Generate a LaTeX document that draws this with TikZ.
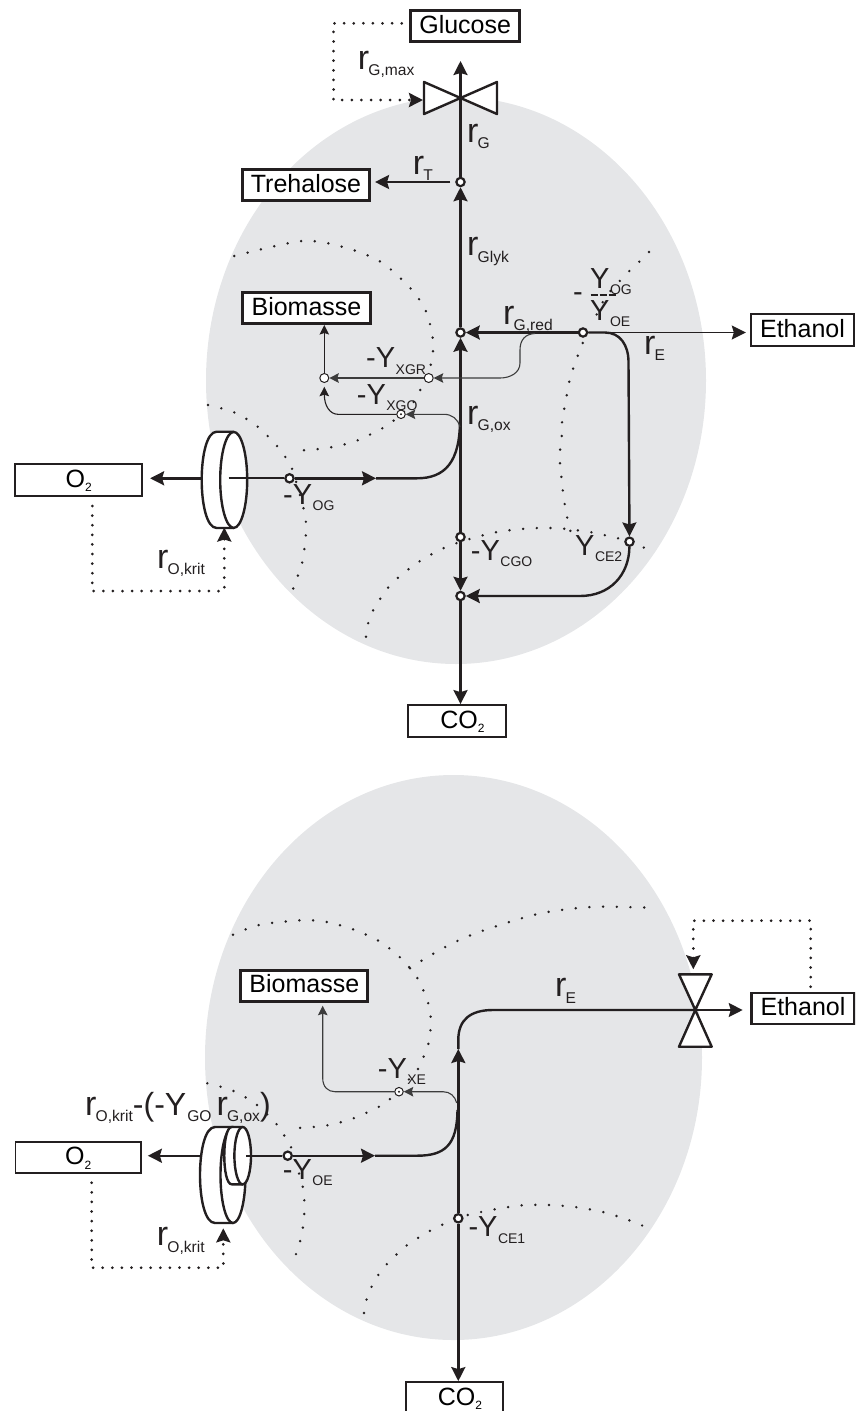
\documentclass[tikz,border=0pt]{standalone}
\usepackage{fontspec}
\setmainfont{Liberation Sans}
\usetikzlibrary{arrows.meta}
\definecolor{ink}{HTML}{231F20}
\definecolor{cellgrey}{HTML}{E5E6E8}
\definecolor{thingrey}{HTML}{3C3C3C}
\newcommand{\rfl}[1]{{\fontsize{34}{34}\selectfont r}\kern-0.8pt\raisebox{-6.5pt}{\fontsize{15.6}{16}\selectfont #1}}
\newcommand{\yfl}[1]{{\fontsize{29}{29}\selectfont Y}\kern0.5pt\raisebox{-6.5pt}{\fontsize{14}{14}\selectfont #1}}
\newcommand{\myfl}[1]{{\fontsize{29}{29}\selectfont -}\yfl{#1}}
\newcommand{\boxtxt}[1]{\fontsize{25}{25}\selectfont #1}
\newcommand{\two}{\raisebox{-4.7pt}{\fontsize{12}{12}\selectfont 2}}
\tikzset{
  bigtip/.tip={Stealth[length=14pt,width=14pt,inset=2pt]},
  smalltip/.tip={Stealth[length=9.5pt,width=9.5pt,inset=1.5pt]},
  lab/.style={anchor=base west,inner sep=0pt,text=ink},
  stockbox/.style={draw=ink,fill=white,inner sep=0pt,text=black,text height=18pt,text depth=4pt,align=center},
  thickjunction/.style={circle,draw=ink,fill=white,line width=2.2pt,minimum size=8.3pt,inner sep=0pt},
  thinjunction/.style={circle,draw=ink,fill=white,line width=1pt,minimum size=9pt,inner sep=0pt},
  thick flow/.style={draw=ink,line width=2.4pt},
  mid flow/.style={draw=ink,line width=1.7pt},
  thin flow/.style={draw=thingrey,line width=1.1pt},
  celldots/.style={draw=ink,line width=2.7pt,line cap=round,dash pattern=on 0pt off 13.7pt},
  ctrldots/.style={draw=ink,line width=3pt,line cap=round,dash pattern=on 0pt off 9.6pt},
  devicepart/.style={draw=ink,fill=white,line width=2.4pt,line join=round},
}
\begin{document}
\begin{tikzpicture}[x=1pt,y=-1pt]
\useasboundingbox (0,0) rectangle (855,1411);
\clip (0,0) rectangle (855,1411);
% ---------- cells
\fill[cellgrey] (456,380.5) ellipse [x radius=250pt,y radius=283.5pt];
\fill[cellgrey] (453.5,1057.5) ellipse [x radius=248.5pt,y radius=282.5pt];
% ---------- dotted boundaries, upper cell
\draw[celldots] plot[smooth] coordinates {(234.3,256) (301.7,241) (343,247) (381,262) (412,290) (426.7,313) (433,340) (432.7,354) (430,367) (419,392.7) (411,405) (391,422.7) (379,430) (354,441.7) (327,448) (299,450.7)};
\draw[celldots] plot[smooth] coordinates {(208,405) (235,412.7) (258,427) (278,447) (286,458) (292.7,470.7) (304,510) (306,523.7) (305.7,537.7) (304,551.7) (301.7,565) (297,578) (292.7,590)};
\draw[celldots] plot[smooth] coordinates {(366,636.7) (368,623.7) (373,610.7) (380,599) (388,587.7) (398,577.7) (408.7,569) (420,561) (432,554) (444,548) (457,543) (470.7,538.7) (484,535) (497,532) (511,530) (525,528.7) (538,528) (552,528) (566.7,529) (580,530.7) (594,532.7) (607,535.7) (621,539) (634,543) (646.7,549)};
\draw[celldots] plot[smooth] coordinates {(582.7,343) (577.7,356) (573,369) (569,382.7) (566.7,395.7) (564,410) (562,423) (561.7,437) (560,451) (560,465) (561.7,479) (563,492) (565,506) (567.7,520) (571,533)};
\draw[celldots] plot[smooth] coordinates {(649,252) (638,263) (627,273.3) (616,285) (605,298) (595,318)};
% ---------- dotted boundaries, lower cell
\draw[celldots] plot[smooth] coordinates {(233,934.7) (259,925) (300,920.3) (327,922) (354,929.7) (379,941) (400.7,958) (418,979) (428.7,1004.7) (430.7,1018) (430.3,1032) (428,1045.7) (423,1058) (416.7,1070.7) (389,1100) (377,1107.7) (351.7,1119) (325,1125.7) (297.7,1128)};
\draw[celldots] plot[smooth] coordinates {(207.3,1083.3) (233,1090.7) (257,1105) (276.7,1124.3) (284.3,1135.7) (291,1147.3) (302.7,1186.7) (304.3,1200.7) (304.3,1214.3) (302.7,1228.3) (300,1241.7) (295.7,1255) (291,1266.7)};
\draw[celldots] plot[smooth] coordinates {(410,968.3) (427,957.3) (451,944) (476.3,933) (515.7,920) (542,913) (569.3,909) (596.7,906.7) (624.3,907) (652.3,907.7)};
\draw[celldots] plot[smooth] coordinates {(364,1313) (366.3,1300.3) (371.3,1287.3) (378,1275.3) (386.3,1264.7) (406.3,1245.7) (429.7,1231) (442.3,1224.7) (455,1219.5) (467.7,1215) (494.7,1209.3) (522,1205.3) (549.3,1205) (577,1207.3) (604,1212.3) (630.3,1220.7) (643.3,1226)};
% ---------- stocks, upper
\node[stockbox,line width=2.6pt,minimum width=109pt,minimum height=31.5pt] (glucose) at (465.2,26) {\boxtxt{Glucose}};
\node[stockbox,line width=2.6pt,minimum width=127.5pt,minimum height=31.5pt] (treh) at (306,185) {\boxtxt{Trehalose}};
\node[stockbox,line width=3pt,minimum width=127.5pt,minimum height=31pt] (biomU) at (306.5,308) {\boxtxt{Biomasse}};
\node[stockbox,line width=2.4pt,minimum width=103pt,minimum height=31.5pt] (ethU) at (802.5,330) {\boxtxt{Ethanol}};
\node[stockbox,line width=1.8pt,minimum width=127pt,minimum height=32pt] (oxU) at (78.7,480) {\boxtxt{O\two}};
\node[stockbox,line width=1.8pt,minimum width=98pt,minimum height=32pt] (co2U) at (457,721) {\hspace*{11pt}\boxtxt{CO\two}};
% ---------- stocks, lower
\node[stockbox,line width=3pt,minimum width=127pt,minimum height=31pt] (biomL) at (304.3,985.7) {\boxtxt{Biomasse}};
\node[stockbox,line width=2.4pt,minimum width=103pt,minimum height=31pt] (ethL) at (803,1008.3) {\boxtxt{Ethanol}};
\node[stockbox,line width=1.8pt,minimum width=125.5pt,minimum height=31.5pt] (oxL) at (78.2,1157.5) {\boxtxt{O\two}};
\node[stockbox,line width=1.8pt,minimum width=97pt,minimum height=32pt] (co2L) at (454.5,1398) {\hspace*{11pt}\boxtxt{CO\two}};
% ---------- junctions, upper
\node[thickjunction] (nT) at (460.5,182) {};
\node[thickjunction] (nC) at (460.5,332.5) {};
\node[thickjunction] (nE) at (583,332.5) {};
\node[thickjunction] (nE2) at (629.5,541.7) {};
\node[thickjunction] (nCGO) at (460.5,537) {};
\node[thickjunction] (nCO) at (460.5,596) {};
\node[thickjunction] (nOG) at (289.5,478.3) {};
\node[thinjunction] (nB) at (324.3,378) {};
\node[thinjunction] (nXGR) at (428.7,378) {};
\node[thinjunction,minimum size=8.5pt] (nXGO) at (401,414.3) {};
\fill[ink] (nXGO) circle (1.1pt);
% ---------- junctions, lower
\node[thickjunction] (mOE) at (287.7,1155.7) {};
\node[thickjunction] (mCE) at (458.3,1218.3) {};
\node[thinjunction,minimum size=8.5pt] (mXE) at (399,1091.7) {};
\fill[ink] (mXE) circle (1.1pt);
% ---------- valves and devices, upper
\coordinate (vG) at (460.5,98);
\coordinate (vGtop) at (460.5,61);
\draw[devicepart] (vG) -- (424,82) -- (424,114) -- cycle;
\draw[devicepart] (vG) -- (497,82) -- (497,114) -- cycle;
\draw[devicepart] (216.7,431.7) .. controls (196.7,431.7) and (196.7,528) .. (216.7,528) -- (233.7,528) -- (233.7,431.7) -- cycle;
\draw[devicepart] (233.7,479.9) ellipse [x radius=13.5pt,y radius=48pt];
% ---------- valves and devices, lower
\coordinate (vE) at (695.3,1010);
\draw[devicepart] (vE) -- (679,974.3) -- (711.7,974.3) -- cycle;
\draw[devicepart] (vE) -- (679,1046.7) -- (711.7,1046.7) -- cycle;
\draw[devicepart] (215,1127) .. controls (195,1127) and (195,1223) .. (215,1223) -- (233,1223) -- (233,1127) -- cycle;
\draw[devicepart] (233,1175) ellipse [x radius=12.5pt,y radius=48pt];
\draw[devicepart] (231.7,1127) .. controls (221.8,1127) and (221.8,1184.3) .. (231.7,1184.3) -- (242.7,1184.3) -- (242.7,1127) -- cycle;
\draw[devicepart] (242.7,1155.7) ellipse [x radius=8.3pt,y radius=28.7pt];
% ---------- control loops
\coordinate (ctlGa) at (401.7,23.3);
\coordinate (ctlGb) at (333.5,23.3);
\coordinate (ctlGc) at (333.5,100);
\coordinate (ctlGd) at (423,100);
\draw[ctrldots,-{bigtip}] (ctlGa) -- (ctlGb) -- (ctlGc) -- (ctlGd);
\coordinate (ctlOa) at (92.3,506);
\coordinate (ctlOb) at (92.3,591);
\coordinate (ctlOc) at (224.3,591);
\coordinate (ctlOd) at (224.3,527.5);
\draw[ctrldots,-{bigtip}] (ctlOa) -- (ctlOb) -- (ctlOc) -- (ctlOd);
\coordinate (ctlPa) at (91.7,1182.7);
\coordinate (ctlPb) at (91.7,1267.7);
\coordinate (ctlPc) at (223.3,1267.7);
\coordinate (ctlPd) at (223.3,1228.3);
\draw[ctrldots,-{bigtip}] (ctlPa) -- (ctlPb) -- (ctlPc) -- (ctlPd);
\coordinate (ctlEa) at (810.7,986.7);
\coordinate (ctlEb) at (810.7,920.7);
\coordinate (ctlEc) at (693.3,920.7);
\coordinate (ctlEd) at (693.3,969.3);
\draw[ctrldots,-{bigtip}] (ctlEa) -- (ctlEb) -- (ctlEc) -- (ctlEd);
% ---------- flows, upper
\draw[thick flow] (nT) -- (vG);
\draw[thick flow,-{bigtip}] (vG) -- (vGtop);
\draw[thick flow,-{bigtip},shorten <=5pt,shorten >=4pt] (nT) -- (treh.east |- nT);
\draw[thick flow,-{bigtip}] (nC) -- (nT);
\draw[thick flow,-{bigtip}] (nCGO) -- (nC);
\draw[thick flow,-{bigtip}] (nCGO) -- (nCO);
\draw[thick flow,-{bigtip}] (nCO) -- (nCO |- co2U.north);
\draw[thick flow,-{bigtip}] (nE) -- (nC);
\draw[mid flow,-{bigtip},shorten >=4pt] (nE) -- (ethU.west |- nE);
\draw[thick flow,-{bigtip}] (nE) -- (605,332.5) .. controls (620,332.5) and (628.5,345) .. (628.5,362) -- (nE2);
\draw[thick flow,-{bigtip}] (nE2) .. controls (629,575) and (610,596) .. (580,596) -- (nCO);
\coordinate (ogMid) at (376,478.3);
\coordinate (c1out) at (228.7,478.3);
\coordinate (c1in) at (201.7,478.3);
\draw[mid flow] (c1out) -- (nOG);
\draw[thick flow,-{bigtip}] (nOG) -- (ogMid);
\draw[thick flow] (ogMid) -- (417,478.3) .. controls (445,478.3) and (460,462) .. (460,420);
\draw[thick flow,-{bigtip},shorten >=7pt] (c1in) -- (oxU.east |- c1in);
\draw[thin flow,-{smalltip}] (535,333.5) .. controls (525,334) and (520,340) .. (520,350) -- (520,363) .. controls (520,373) and (510,378) .. (500,378) -- (nXGR);
\draw[thin flow,-{smalltip}] (nXGR) -- (nB);
\draw[thin flow,draw=ink,-{smalltip}] (nB) -- (nB |- biomU.south);
\draw[thin flow,-{smalltip}] (460,427) .. controls (458,419) and (452,414.3) .. (444,414.3) -- (nXGO);
\draw[thin flow,draw=ink,-{smalltip}] (nXGO) -- (338,414.3) .. controls (330,414.3) and (324.3,406) .. (324.3,386.7);
% dashed quotient bar
\coordinate (barL) at (590.5,294.5);
\coordinate (barR) at (617,294.5);
\draw[ink,line width=2pt,dash pattern=on 7pt off 2pt] (barL) -- (barR);
% ---------- flows, lower
\coordinate (bendE) at (493,1010);
\coordinate (tipEup) at (458.3,1049);
\coordinate (tipEr) at (742.7,1010);
\coordinate (oeMid) at (375,1155.7);
\coordinate (c2out) at (246,1155.7);
\coordinate (c2in) at (200,1155.7);
\draw[thick flow,-{bigtip}] (mCE) -- (tipEup);
\draw[thick flow] (tipEup) -- (458.3,1040) .. controls (458.3,1020) and (470,1010) .. (bendE) -- (vE);
\draw[mid flow,-{bigtip}] (vE) -- (tipEr);
\draw[thick flow,-{bigtip}] (mCE) -- (mCE |- co2L.north);
\draw[mid flow] (c2out) -- (mOE);
\draw[thick flow,-{bigtip}] (mOE) -- (oeMid);
\draw[thick flow] (oeMid) -- (417,1155.7) .. controls (445,1155.7) and (457,1145) .. (457.5,1110);
\draw[thick flow,-{bigtip},shorten >=6pt] (c2in) -- (oxL.east |- c2in);
\draw[thin flow,-{smalltip}] (456.7,1103) .. controls (455,1096) and (450,1091.7) .. (443,1091.7) -- (mXE);
\draw[thin flow,-{smalltip},shorten >=3pt] (mXE) -- (335,1091.7) .. controls (328,1091.7) and (322.7,1087) .. (322.7,1078) -- (322.7,1002.7);
% ---------- labels, upper
\node[lab] (lGmax) at (357.7,69) {\rfl{G,max}};
\node[lab] (lG) at (467,142) {\rfl{G}};
\node[lab] (lT) at (412.7,174) {\rfl{T}};
\node[lab] (lGlyk) at (467,255.7) {\rfl{Glyk}};
\node[lab] (lGred) at (503,324) {\rfl{G,red}};
\node[lab] (lGox) at (467,424) {\rfl{G,ox}};
\node[lab] (lEU) at (644,354) {\rfl{E}};
\node[lab] (lOkU) at (157,568) {\rfl{O,krit}};
\node[lab] (lXGR) at (366,367.7) {\myfl{XGR}};
\node[lab] (lXGO) at (356.7,404) {\myfl{XGO}};
\node[lab] (lOG) at (283,504) {\myfl{OG}};
\node[lab] (lCGO) at (470.7,560) {\myfl{CGO}};
\node[lab] (lCE2) at (575,555) {\yfl{CE2}};
\node[lab] (lfracm) at (573,301) {\fontsize{29}{29}\selectfont -};
\node[lab] (lfracA) at (590,288) {\yfl{OG}};
\node[lab] (lfracB) at (590,320) {\yfl{OE}};
% ---------- labels, lower
\node[lab] (lEL) at (555,996.7) {\rfl{E}};
\node[lab] (lOkL) at (156.7,1245.7) {\rfl{O,krit}};
\node[lab] (lOE) at (282.7,1179.3) {\myfl{OE}};
\node[lab] (lXE) at (377.7,1078.3) {\myfl{XE}};
\node[lab] (lCE1) at (468.3,1236.7) {\myfl{CE1}};
\node[lab] (lTop) at (85,1115) {\rfl{O,krit}{\fontsize{32}{32}\selectfont -(-Y}\kern1pt\raisebox{-6.5pt}{\fontsize{15.6}{16}\selectfont GO}\kern5pt\rfl{G,ox}{\fontsize{32}{32}\selectfont )}};
\end{tikzpicture}
\end{document}
